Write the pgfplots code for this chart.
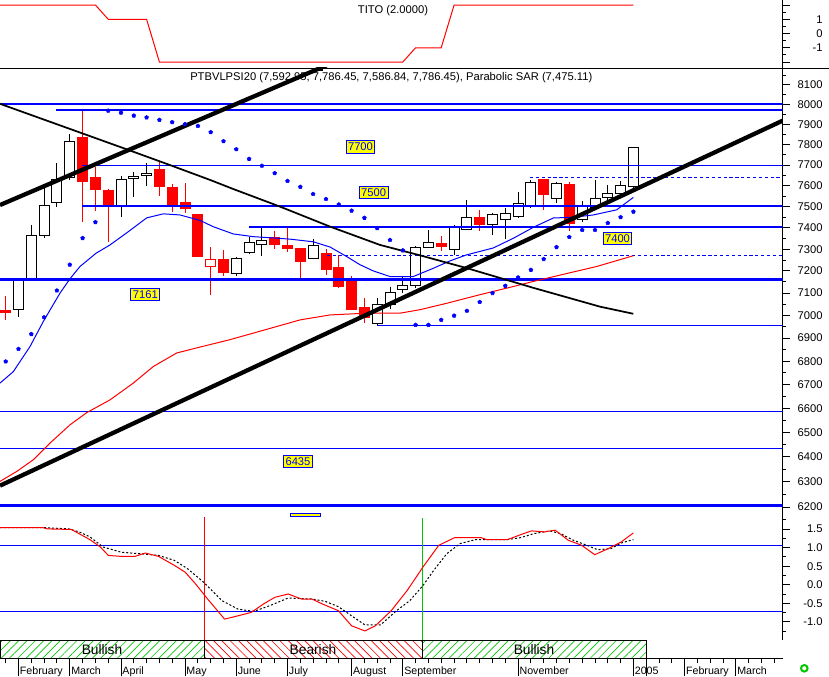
\documentclass[border=0pt]{standalone}
\usepackage{fontspec}
\setmainfont{Liberation Sans}
\usepackage{pgfplots}
\pgfplotsset{compat=1.18}
\usepackage{pgfplotstable}
\usetikzlibrary{patterns.meta}

\definecolor{mblue}{RGB}{0,0,255}
\definecolor{mred}{RGB}{255,0,0}
\definecolor{mgreen}{RGB}{0,200,0}
\definecolor{myellow}{RGB}{255,255,0}
\newcommand\ff{\fontsize{8.4}{10}\selectfont}
\newcommand\fm{\fontsize{8}{10}\selectfont}
\newcommand\fb{\fontsize{10.3}{12}\selectfont}

% weekly candles: x (px), open, high, low, close, type (0 up, 1 down, 2 hollow red)
\pgfplotstableread{
x o h l c t
5.7 7020 7087 6980 7014 1
18.5 7028 7168 6991 7159 0
31.3 7167 7413 7164 7362 0
44.1 7365 7587 7351 7506 0
56.9 7516 7708 7497 7632 0
69.8 7637 7853 7627 7816 0
82.6 7834 7973 7428 7619 1
95.4 7637 7692 7480 7583 1
108.2 7576 7584 7335 7507 1
121.0 7507 7647 7449 7631 0
133.8 7634 7666 7547 7643 0
146.6 7648 7708 7600 7660 0
159.4 7679 7720 7552 7595 1
172.2 7592 7608 7476 7507 1
185.0 7517 7611 7471 7490 1
197.9 7460 7465 7264 7266 1
210.7 7220 7309 7089 7254 2
223.5 7251 7297 7177 7192 1
236.3 7190 7263 7179 7257 0
249.1 7286 7356 7277 7332 0
261.9 7323 7400 7269 7338 0
274.7 7356 7386 7303 7321 1
287.5 7315 7400 7287 7303 1
300.3 7301 7301 7167 7243 1
313.1 7257 7346 7257 7315 0
326.0 7281 7300 7182 7205 1
338.8 7214 7274 7122 7129 1
351.6 7156 7177 7025 7025 1
364.4 7035 7078 6968 6988 1
377.2 6966 7077 6958 7050 0
390.0 7047 7129 7028 7102 0
402.8 7114 7174 7099 7132 0
415.6 7132 7315 7122 7307 0
428.4 7305 7390 7305 7332 0
441.2 7328 7362 7289 7312 1
454.1 7297 7413 7274 7400 0
466.9 7393 7531 7393 7445 0
479.7 7445 7484 7386 7416 1
492.5 7416 7471 7366 7460 0
505.3 7440 7492 7348 7465 0
518.1 7452 7568 7447 7512 0
530.9 7507 7627 7495 7616 0
543.7 7632 7632 7484 7559 1
556.5 7539 7619 7518 7611 0
569.3 7603 7616 7386 7418 1
582.2 7440 7527 7424 7507 0
595.0 7497 7627 7497 7539 0
607.8 7544 7603 7531 7563 0
620.6 7563 7622 7563 7602 0
633.4 7592.95 7786.45 7586.84 7786.45 0
}\candles

\pgfplotstableread{
x y
5.7 6798
18.5 6852
31.3 6917
44.1 6991
56.9 7111
69.8 7228
82.6 7351
95.4 7426
108.2 7969
121.0 7959
133.8 7944
146.6 7936
159.4 7923
172.2 7911
185.0 7901
197.9 7893
210.7 7861
223.5 7816
236.3 7777
249.1 7729
261.9 7695
274.7 7660
287.5 7622
300.3 7594
313.1 7559
326.0 7535
338.8 7509
351.6 7480
364.4 7446
377.2 7397
390.0 7342
402.8 7294
415.6 6958
428.4 6958
441.2 6980
454.1 6998
466.9 7020
479.7 7059
492.5 7099
505.3 7132
518.1 7170
530.9 7205
543.7 7254
556.5 7309
569.3 7356
582.2 7389
595.0 7389
607.8 7422
620.6 7449
633.4 7475
}\sar

\pgfplotstableread{
x y
0 6706
13.3 6755
30 6863
43.3 6973
60 7099
70 7164
80 7220
96 7281
110 7320
128 7380
146.7 7446
163.3 7465
180 7460
200 7434
213.3 7404
233.3 7371
253.3 7358
273.3 7352
290 7346
313.3 7334
330 7310
346.7 7266
360 7228
373.3 7200
390 7174
413.3 7174
433.3 7212
450 7246
466.7 7274
493.3 7305
513.3 7350
533.3 7401
553.3 7445
573.3 7449
593.3 7460
616.7 7484
633.3 7543
}\mashort

\pgfplotstableread{
x y
0 6301
16.7 6341
33.3 6388
50 6456
70 6531
86.7 6582
110 6635
133.3 6706
153.3 6777
176.7 6835
200 6861
230 6893
265 6936
300 6980
330 7002
366.7 7010
400 7010
420 7025
446.7 7054
480 7092
513.3 7129
533.3 7152
563.3 7184
596.7 7220
633.3 7270
}\malong

\pgfplotstableread{
x y
0 8003
126.7 7777
170 7700
210 7627
233.3 7584
280 7499
330 7405
380 7320
420 7271
466.7 7213
533.3 7123
600 7039
633.3 7007
}\downtrend

\pgfplotstableread{
x y
0 1.544
42.3 1.544
47.6 1.507
71.4 1.491
89.9 1.218
100.4 1.019
108.3 0.792
121.6 0.765
134.8 0.765
145.4 0.857
158.6 0.765
174.4 0.523
185.1 0.342
195.6 0.024
206.2 -0.337
224.6 -0.925
238.0 -0.836
251.2 -0.744
264.4 -0.501
274.9 -0.337
288.2 -0.248
301.4 -0.383
311.9 -0.383
322.5 -0.518
338.4 -0.698
351.6 -1.105
364.8 -1.243
375.4 -1.105
391.2 -0.698
407.1 -0.156
422.9 0.477
438.8 1.065
454.7 1.272
481.1 1.272
486.5 1.218
507.5 1.218
520.8 1.353
531.4 1.453
544.6 1.426
555.1 1.472
568.4 1.199
581.6 1.065
594.8 0.811
608.0 0.973
621.3 1.156
633.4 1.399
}\oscfast

\pgfplotstableread{
x y
0 1.544
42.3 1.544
68.7 1.507
79.3 1.426
89.9 1.291
103.1 1.019
121.6 0.876
140.2 0.838
158.6 0.792
174.4 0.658
187.7 0.431
203.6 0.070
222.1 -0.429
238.0 -0.655
253.8 -0.717
269.7 -0.563
288.2 -0.356
311.9 -0.383
325.1 -0.445
338.4 -0.590
351.6 -0.836
364.8 -1.078
380.7 -1.078
396.5 -0.698
409.7 -0.429
422.9 -0.022
433.6 0.385
446.8 0.838
460.0 1.111
475.8 1.218
507.5 1.218
520.8 1.272
534.0 1.380
549.9 1.453
560.4 1.380
573.6 1.199
586.9 1.065
597.5 0.946
610.7 0.973
621.3 1.127
633.4 1.218
}\oscslow

\pgfplotsset{
  panel/.style={scale only axis, width=586.875pt, anchor=north west,
    xmin=0, xmax=782.5, axis x line=none, axis y line*=right,
    y axis line style={-, line width=0.75pt},
    tick align=outside, major tick length=5.25pt, minor tick length=2.6pt,
    every tick/.style={black, line width=0.75pt},
    yticklabel style={font=\ff, anchor=east, inner sep=0pt, xshift=25pt}}
}
\tikzset{lab/.style={fill=myellow, draw=mblue, text=mblue, font=\ff, line width=0.75pt,
    inner xsep=1.5pt, inner ysep=1.6pt},
  mon/.style={font=\fm, anchor=base west, inner sep=0pt}}

\begin{document}
\begin{tikzpicture}
\begin{scope}[x=0.75pt, y=-0.75pt]
\node[font=\ff, anchor=west, inner sep=0pt] at (190,78)
  {PTBVLPSI20 (7,592.95, 7,786.45, 7,586.84, 7,786.45), Parabolic SAR (7,475.11)};
\node[font=\ff] at (393,10.5) {TITO (2.0000)};
\end{scope}

% TITO panel
\begin{axis}[panel, at={(0pt,0pt)}, height=51pt, ymin=-2.421, ymax=2.351,
  ytick={-2,-1,0,1,2}, yticklabels={,-1,0,1,},
  minor ytick={-1.5,-0.5,0.5,1.5}]
\addplot[mred, line width=0.75pt] coordinates {(0,2) (95.4,2) (108.2,1) (146.6,1)
  (159.4,-2) (402.8,-2) (415.6,-1) (441.2,-1) (454.1,2) (633.4,2)};
\end{axis}

% price panel
\begin{axis}[panel, at={(0pt,-51pt)}, height=333pt,
  ymode=log, ymin=6180.6, ymax=8187.6,
  ytick={6200,6300,6400,6500,6600,6700,6800,6900,7000,7100,7200,7300,7400,7500,7600,7700,7800,7900,8000,8100},
  yticklabels={6200,6300,6400,6500,6600,6700,6800,6900,7000,7100,7200,7300,7400,7500,7600,7700,7800,7900,8000,8100},
  minor ytick={6250,6350,6450,6550,6650,6750,6850,6950,7050,7150,7250,7350,7450,7550,7650,7750,7850,7950,8050,8150}]
\pgfplotsinvokeforeach{0,...,49}{
  \pgfplotstablegetelem{#1}{x}\of\candles \let\cx\pgfplotsretval
  \pgfplotstablegetelem{#1}{o}\of\candles \let\co\pgfplotsretval
  \pgfplotstablegetelem{#1}{h}\of\candles \let\ch\pgfplotsretval
  \pgfplotstablegetelem{#1}{l}\of\candles \let\cl\pgfplotsretval
  \pgfplotstablegetelem{#1}{c}\of\candles \let\cc\pgfplotsretval
  \pgfplotstablegetelem{#1}{t}\of\candles \let\ct\pgfplotsretval
  \pgfmathsetmacro\xa{\cx-5}\pgfmathsetmacro\xb{\cx+5}
  \ifcase\ct\relax \def\wc{black}\def\fc{white}\or \def\wc{mred}\def\fc{mred}\or \def\wc{mred}\def\fc{white}\fi
  \edef\temp{\noexpand\addplot[\wc, line width=0.75pt, forget plot] coordinates {(\cx,\ch) (\cx,\cl)};
    \noexpand\addplot[draw=\wc, fill=\fc, line width=0.75pt, forget plot]
      coordinates {(\xa,\co) (\xb,\co) (\xb,\cc) (\xa,\cc)} -- cycle;}
  \temp
}
\addplot[mblue, line width=1.5pt] coordinates {(0,8000) (782.5,8000)};
\addplot[mblue, line width=1.5pt] coordinates {(56,7975) (782.5,7975)};
\addplot[mblue, line width=0.75pt] coordinates {(82,7700) (782.5,7700)};
\addplot[mblue, line width=0.75pt, dash pattern=on 2.4pt off 2pt] coordinates {(530,7637) (782.5,7637)};
\addplot[mblue, line width=1.6pt] coordinates {(82,7503) (782.5,7503)};
\addplot[mblue, line width=1.6pt] coordinates {(249,7405) (782.5,7405)};
\addplot[mblue, line width=0.75pt, dash pattern=on 2.4pt off 2pt] coordinates {(327,7272) (782.5,7272)};
\addplot[mblue, line width=2.4pt] coordinates {(0,7161) (782.5,7161)};
\addplot[mblue, line width=0.75pt] coordinates {(377,6956) (782.5,6956)};
\addplot[mblue, line width=0.75pt] coordinates {(0,6585) (782.5,6585)};
\addplot[mblue, line width=0.75pt] coordinates {(0,6435) (782.5,6435)};
\addplot[mblue, line width=2.6pt] coordinates {(0,6206) (782.5,6206)};
\addplot[mblue, line width=0.75pt] table {\mashort};
\addplot[mred, line width=0.75pt] table {\malong};
\addplot[black, line width=1.3pt] table {\downtrend};
\addplot[black, line width=3.2pt] coordinates {(0,7507) (350,8253)};
\addplot[black, line width=3.2pt] coordinates {(0,6284) (782.5,7919)};
\addplot[only marks, mark=pentagon*, mark size=1.5pt, mblue] table {\sar};
\node[lab] at (axis cs:360.5,7788) {7700};
\node[lab] at (axis cs:373.7,7565) {7500};
\node[lab] at (axis cs:617.5,7348) {7400};
\node[lab] at (axis cs:145.3,7092) {7161};
\node[lab] at (axis cs:298,6380) {6435};
\end{axis}

% oscillator panel
\begin{axis}[panel, at={(0pt,-384pt)}, height=96pt, ymin=-1.488, ymax=1.962,
  ytick={-1,-0.5,0,0.5,1,1.5}, yticklabels={-1.0,-0.5,0.0,0.5,1.0,1.5},
  minor ytick={-1.25,-0.75,-0.25,0.25,0.75,1.25,1.75}]
\addplot[mblue, line width=0.75pt] coordinates {(0,1.06) (782.5,1.06)};
\addplot[mblue, line width=0.75pt] coordinates {(0,-0.72) (782.5,-0.72)};
\addplot[mred, line width=0.75pt] coordinates {(204.5,1.817) (204.5,-1.488)};
\addplot[mgreen, line width=0.75pt] coordinates {(422.5,1.80) (422.5,-1.488)};
\addplot[black, line width=0.75pt, dash pattern=on 1.5pt off 1.5pt] table {\oscslow};
\addplot[mred, line width=0.75pt] table {\oscfast};
\draw[fill=myellow, draw=mblue, line width=0.75pt] (axis cs:290,1.83) rectangle (axis cs:320,1.93);
\end{axis}

% signal band and date axis
\begin{axis}[scale only axis, width=586.875pt, height=13.725pt, at={(0pt,-480pt)}, anchor=north west,
  xmin=0, xmax=782.5, ymin=0, ymax=1, axis y line=none, axis x line*=bottom,
  x axis line style={-, line width=0.75pt}, clip=false,
  tick align=outside, major tick length=3.75pt, every tick/.style={black, line width=0.75pt},
  xtick={5.7,18.5,31.3,44.1,56.9,69.8,82.6,95.4,108.2,121.0,133.8,146.6,159.4,172.2,185.0,197.9,210.7,223.5,236.3,249.1,261.9,274.7,287.5,300.3,313.1,326.0,338.8,351.6,364.4,377.2,390.0,402.8,415.6,428.4,441.2,454.1,466.9,479.7,492.5,505.3,518.1,530.9,543.7,556.5,569.3,582.2,595.0,607.8,620.6,633.4,646.2,659.0,671.8,684.6,697.4,710.2,723.0,735.8,748.6,761.4,774.3},
  xticklabels={},
  extra x ticks={18.5,69.8,121.0,185.0,236.3,287.5,351.6,402.8,518.1,633.4,646.2,684.6,735.8},
  extra x tick labels={}, extra x tick style={major tick length=13.5pt}]
\addplot[draw=black, line width=0.75pt, pattern={Lines[angle=45,distance=4.4pt,line width=0.5pt]},
  pattern color=mgreen] coordinates {(0.5,0) (0.5,1) (204.5,1) (204.5,0)} -- cycle;
\addplot[draw=black, line width=0.75pt, pattern={Lines[angle=-45,distance=4.4pt,line width=0.5pt]},
  pattern color=mred] coordinates {(204.5,0) (204.5,1) (422.5,1) (422.5,0)} -- cycle;
\addplot[draw=black, line width=0.75pt, pattern={Lines[angle=45,distance=4.4pt,line width=0.5pt]},
  pattern color=mgreen] coordinates {(422.5,0) (422.5,1) (646.2,1) (646.2,0)} -- cycle;
\node[font=\fb] at (axis cs:102,0.5) {Bullish};
\node[font=\fb] at (axis cs:313,0.5) {Bearish};
\node[font=\fb] at (axis cs:534,0.5) {Bullish};
\node[mon] at (axis cs:19.7,-0.86) {February};
\node[mon] at (axis cs:71.0,-0.86) {March};
\node[mon] at (axis cs:122.2,-0.86) {April};
\node[mon] at (axis cs:186.2,-0.86) {May};
\node[mon] at (axis cs:237.5,-0.86) {June};
\node[mon] at (axis cs:288.7,-0.86) {July};
\node[mon] at (axis cs:352.8,-0.86) {August};
\node[mon] at (axis cs:404.0,-0.86) {September};
\node[mon] at (axis cs:519.3,-0.86) {November};
\node[mon] at (axis cs:634.6,-0.86) {2005};
\node[mon] at (axis cs:685.8,-0.86) {February};
\node[mon] at (axis cs:737.0,-0.86) {March};
\end{axis}

\begin{scope}[x=0.75pt, y=-0.75pt]
\draw[line width=0.75pt] (0,68) -- (829,68);
\fill[black] (316,68) rectangle (323,70.5);
\draw[mgreen, line width=1.5pt] (804.3,668.3) circle[radius=3.3];
\end{scope}
\pgfresetboundingbox
\path[use as bounding box] (0pt,0pt) rectangle (621.75pt,-507pt);
\end{tikzpicture}
\end{document}
